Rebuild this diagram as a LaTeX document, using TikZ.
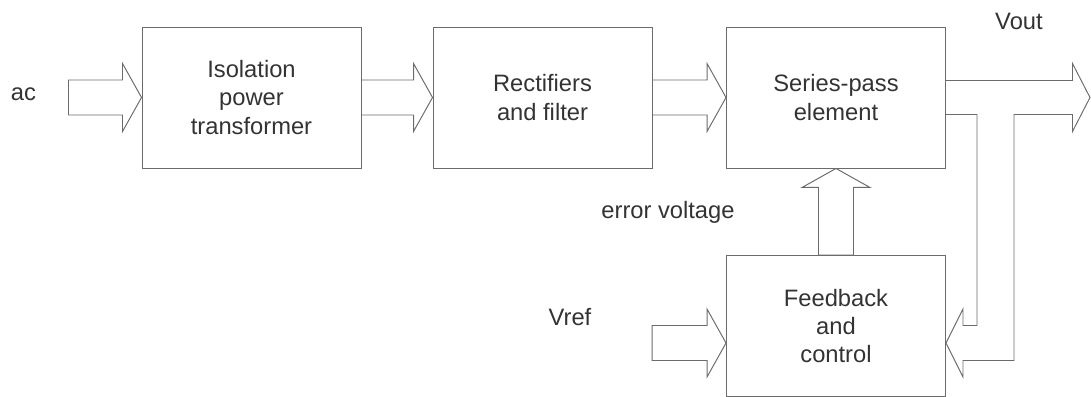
\documentclass[tikz,border=0pt]{standalone}
\usepackage{fontspec}
\setmainfont{Liberation Sans}
\usetikzlibrary{positioning, calc}

\definecolor{inkline}{gray}{0.42}
\definecolor{inktext}{gray}{0.2}

\begin{document}
\begin{tikzpicture}[
    node distance=5.8cm and 5.8cm,
    on grid,
    block/.style={draw=inkline, line width=0.55pt, text=inktext, align=center, inner sep=0pt,
                  minimum width=4.38cm, minimum height=2.82cm, font=\fontsize{13.5}{16}\selectfont},
    tag/.style={text=inktext, inner sep=0pt, font=\fontsize{13.5}{16}\selectfont},
    wire/.style={draw=inkline, line width=0.55pt, line join=miter},
    fat/.style={wire, to path={
        ($(\tikztotarget)!0.38cm!(\tikztostart)$) coordinate (hb)
        ($(\tikztostart)!0.35cm!90:(\tikztotarget)$) -- ($(hb)!0.35cm!-90:(\tikztostart)$)
        -- ($(hb)!0.68cm!-90:(\tikztostart)$) -- (\tikztotarget)
        -- ($(hb)!0.68cm!90:(\tikztostart)$) -- ($(hb)!0.35cm!90:(\tikztostart)$)
        -- ($(\tikztostart)!0.35cm!-90:(\tikztotarget)$) -- cycle}}
]
\useasboundingbox (-5.03,1.95) rectangle (16.79,-5.99);

% -------------------------
% BLOCKS
% -------------------------
\node[block] (iso) at (0,0) {Isolation\\ power\\ transformer};
\node[block] (rect) [right=5.82cm of iso] {Rectifiers\\ and filter};
\node[block] (series) [right=5.87cm of rect] {Series-pass\\ element};
\node[block] (fb) [below=4.57cm of series] {Feedback\\ and\\ control};

% -------------------------
% END POINTS
% -------------------------
\coordinate[left=1.46cm of iso.west] (acin);
\coordinate[below=0.34cm of fb.west] (vrefin);
\coordinate[left=1.48cm of vrefin] (vreftail);
\coordinate[below=0.34cm of fb.east] (fbtip);
\coordinate[right=0.34cm of fbtip] (fbback);
\coordinate[right=0.62cm of series.east] (tapin);
\coordinate[right=1.36cm of series.east] (tapout);
\coordinate[right=2.88cm of series.east] (outtip);
\coordinate[left=0.35cm of outtip] (outback);

% -------------------------
% LABELS
% -------------------------
\node[tag] (ac) at ($(acin)+(-0.9,0.07)$) {ac};
\node[tag] (vout) at ($(series.east)+(1.46,1.53)$) {Vout};
\node[tag] (err) at ($(fb.north)+(-3.36,0.86)$) {error voltage};
\node[tag] (vref) at ($(vreftail)+(-1.64,0.52)$) {Vref};

% -------------------------
% BLOCK ARROWS
% -------------------------
\draw[fat] (acin) to (iso.west);
\draw[fat] (iso.east) to (rect.west);
\draw[fat] (rect.east) to (series.west);
\draw[fat] (fb.north) to (series.south);
\draw[fat] (vreftail) to (vrefin);

% output with the sense lines tapped back into the feedback block
\draw[wire] ($(series.east)+(0,-0.34)$) -| ($(tapin |- fbback)+(0,0.35)$)
    -- ($(fbback)+(0,0.35)$) -- ($(fbback)+(0,0.68)$) -- (fbtip)
    -- ($(fbback)+(0,-0.68)$) -- ($(fbback)+(0,-0.35)$)
    -| ($(tapout)+(0,-0.34)$) -- ($(outback)+(0,-0.34)$)
    -- ($(outback)+(0,-0.68)$) -- (outtip) -- ($(outback)+(0,0.68)$)
    -- ($(outback)+(0,0.34)$) -- ($(series.east)+(0,0.34)$);

\end{tikzpicture}
\end{document}
